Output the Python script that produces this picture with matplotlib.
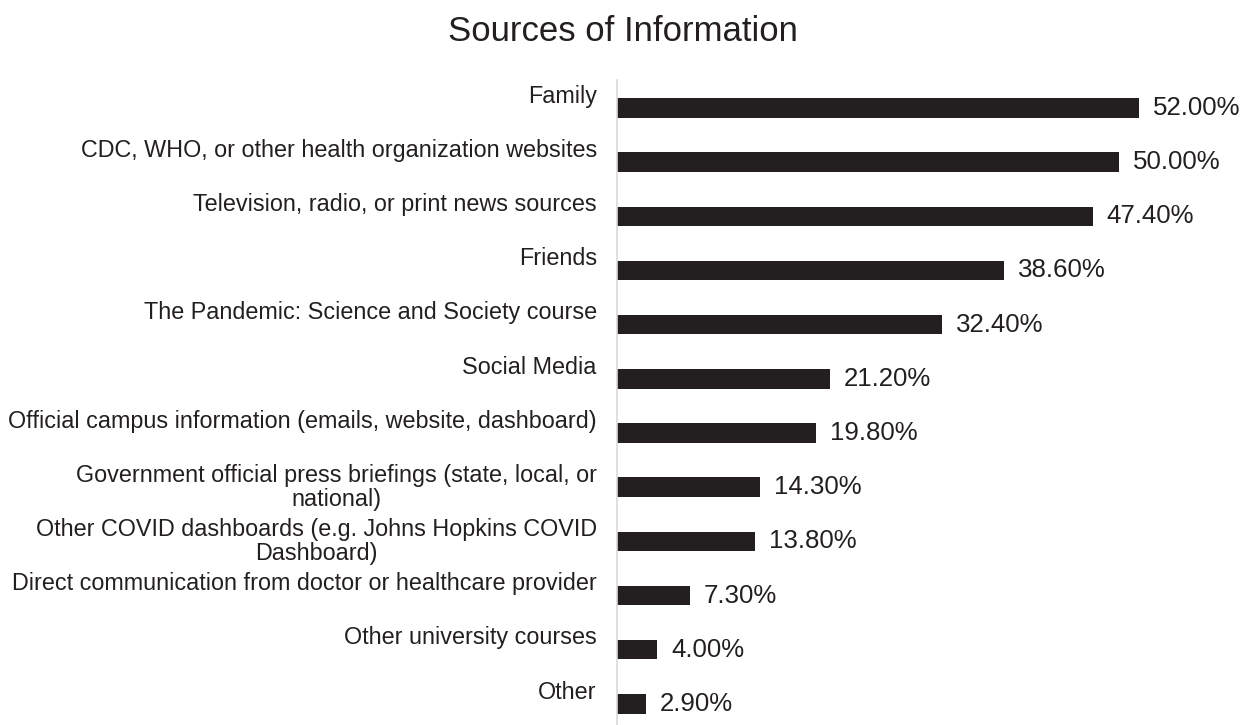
import matplotlib.pyplot as plt

# data
categories = [
    "Family",
    "CDC, WHO, or other health organization websites",
    "Television, radio, or print news sources",
    "Friends",
    "The Pandemic: Science and Society course",
    "Social Media",
    "Official campus information (emails, website, dashboard)",
    "Government official press briefings (state, local, or\nnational)",
    "Other COVID dashboards (e.g. Johns Hopkins COVID\nDashboard)",
    "Direct communication from doctor or healthcare provider",
    "Other university courses",
    "Other",
]
percent = [52.0, 50.0, 47.4, 38.6, 32.4, 21.2, 19.8, 14.3, 13.8, 7.3, 4.0, 2.9]

dark = "#231f20"
plt.rcParams["font.family"] = ["Liberation Sans", "DejaVu Sans"]

fig = plt.figure(figsize=(12.52, 7.25), dpi=100)
ax = fig.add_axes([0.4928, 0.0, 0.4808, 0.89])

ypos = list(range(len(categories)))
ax.barh(ypos, percent, height=0.36, color=dark)

ax.set_xlim(0, 60)
ax.set_ylim(11.39, -0.52)

# value labels to the right of each bar
for y, v in zip(ypos, percent):
    ax.annotate(f"{v:.2f}%", xy=(v, y), xytext=(10, 0), textcoords="offset points",
                va="center", ha="left", fontsize=18.6, color=dark)

# category labels, top-aligned in their row (wrapped ones end up centred)
for y, lab in zip(ypos, categories):
    ax.annotate(lab, xy=(0, y - 0.43), xycoords=("axes fraction", "data"),
                xytext=(-14.5, 0), textcoords="offset points",
                ha="right", va="top", multialignment="center",
                fontsize=16.8, color=dark, linespacing=1.08)

ax.set_xticks([])
ax.set_yticks([])
for s in ["top", "right", "bottom"]:
    ax.spines[s].set_visible(False)
ax.spines["left"].set_color("#d9d9d9")
ax.spines["left"].set_linewidth(1.2)

fig.text(0.4976, 0.957, "Sources of Information", ha="center", va="center",
         fontsize=25, color=dark)

fig.savefig("out.png", dpi=100)
